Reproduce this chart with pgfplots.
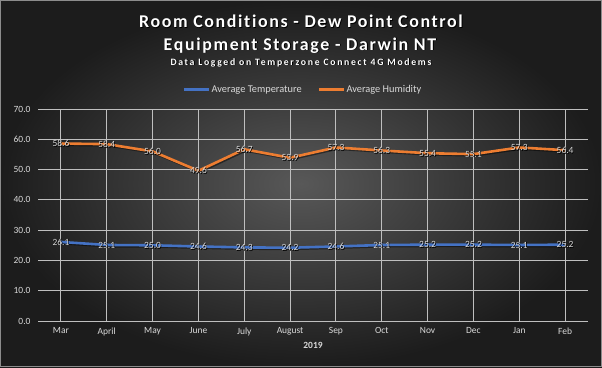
\documentclass[border=0pt]{standalone}
\usepackage{fontspec}
\setmainfont{Carlito}[Ligatures=NoCommon]
\newfontfamily\titlefont[LetterSpace=9,Ligatures=NoCommon]{Carlito}
\newfontfamily\subfont[LetterSpace=17,Ligatures=NoCommon]{Carlito}
\usepackage{pgfplots}
\usepackage{pgfplotstable}
\pgfplotsset{compat=1.18}
\definecolor{tempblue}{RGB}{68,114,196}
\definecolor{humorange}{RGB}{237,125,49}
\definecolor{lbl}{RGB}{217,217,217}
\definecolor{grid}{RGB}{88,88,88}
\pgfplotstableread{
x y l
0 26.1 26.1
1 25.1 25.1
2 25.0 25.0
3 24.6 24.6
4 24.3 24.3
5 24.2 24.2
6 24.6 24.6
7 25.1 25.1
8 25.2 25.2
9 25.2 25.2
10 25.1 25.1
11 25.2 25.2
}\temptable
\pgfplotstableread{
x y l
0 58.6 58.6
1 58.4 58.4
2 56.0 56.0
3 49.6 49.6
4 56.7 56.7
5 53.9 53.9
6 57.3 57.3
7 56.3 56.3
8 55.4 55.4
9 55.1 55.1
10 57.3 57.3
11 56.4 56.4
}\humtable
\begin{document}
\begin{tikzpicture}[x=1bp,y=1bp]
\path[use as bounding box] (0,0) rectangle (602,367);
\shade[inner color={rgb,255:red,88;green,88;blue,88}, outer color={rgb,255:red,28;green,28;blue,28}] (0,0) rectangle (602,367);
\draw[color={rgb,255:red,140;green,140;blue,140}, line width=0.8bp] (0.4,0.4) rectangle (601.6,366.6);
\foreach \c/\dx in {black/0.9, white/0}{
\node[\c, anchor=base, font=\titlefont\fontsize{18}{20}\selectfont\bfseries] at (301+\dx,339.7-\dx) {Room Conditions - Dew Point Control};
\node[\c, anchor=base, font=\titlefont\fontsize{18}{20}\selectfont\bfseries] at (300+\dx,317-\dx) {Equipment Storage - Darwin NT};
\node[\c, anchor=base, font=\subfont\fontsize{9.8}{11}\selectfont\bfseries] at (301+\dx,302-\dx) {Data Logged on Temperzone Connect 4G Modems};
}
\begin{axis}[
  at={(38bp,46bp)}, anchor=south west,
  width=550bp, height=212bp, scale only axis,
  xmin=-0.5, xmax=11.5, ymin=0, ymax=70,
  xtick={0,...,11},
  xticklabels={Mar,April,May,June,July,August,Sep,Oct,Nov,Dec,Jan,Feb},
  ytick={0,10,...,70},
  yticklabel={\pgfmathprintnumber[fixed,fixed zerofill,precision=1]{\tick}},
  /pgf/number format/assume math mode=true,
  ymajorgrids, major grid style={grid, line width=0.9bp},
  axis line style={draw=none},
  major tick length=0pt,
  tick label style={lbl, font=\fontsize{9.5}{10}\selectfont},
  xticklabel style={yshift=-3bp},
  yticklabel style={xshift=-4bp},
  xlabel={\bfseries 2019}, xlabel style={lbl, font=\fontsize{9.5}{10}\selectfont, yshift=0bp},
  legend columns=2,
  legend style={at={(0.5,1)}, anchor=south, xshift=-10.5bp, yshift=13bp, draw=none, fill=none,
    text=lbl, font=\fontsize{10.4}{11}\selectfont, inner sep=0pt,
    /tikz/every even column/.append style={column sep=15bp},
    /tikz/every node/.append style={inner xsep=1bp}},
  legend image code/.code={\draw[#1, line width=2.8bp] (0bp,0bp) -- (25bp,0bp);},
  point meta=explicit symbolic,
]
\addplot[black, opacity=0.45, line width=2.6bp, mark=none, xshift=1.2bp, yshift=-1.2bp, forget plot] table[x=x, y=y] {\temptable};
\addplot[black, opacity=0.45, line width=2.6bp, mark=none, xshift=1.2bp, yshift=-1.2bp, forget plot] table[x=x, y=y] {\humtable};
\addplot[tempblue, line width=2.6bp, mark=none] table[x=x, y=y] {\temptable};
\addlegendentry{Average Temperature}
\addplot[humorange, line width=2.6bp, mark=none] table[x=x, y=y] {\humtable};
\addlegendentry{Average Humidity}
\addplot[draw=none, mark=none, forget plot, nodes near coords,
  every node near coord/.append style={anchor=center, black, xshift=0.8bp, yshift=-0.8bp, font=\fontsize{9.5}{10}\selectfont}]
  table[x=x, y=y, meta=l] {\temptable};
\addplot[draw=none, mark=none, forget plot, nodes near coords,
  every node near coord/.append style={anchor=center, black, xshift=0.8bp, yshift=-0.8bp, font=\fontsize{9.5}{10}\selectfont}]
  table[x=x, y=y, meta=l] {\humtable};
\addplot[draw=none, mark=none, forget plot, nodes near coords,
  every node near coord/.append style={anchor=center, lbl, font=\fontsize{9.5}{10}\selectfont}]
  table[x=x, y=y, meta=l] {\temptable};
\addplot[draw=none, mark=none, forget plot, nodes near coords,
  every node near coord/.append style={anchor=center, lbl, font=\fontsize{9.5}{10}\selectfont}]
  table[x=x, y=y, meta=l] {\humtable};
\end{axis}
\end{tikzpicture}
\end{document}
